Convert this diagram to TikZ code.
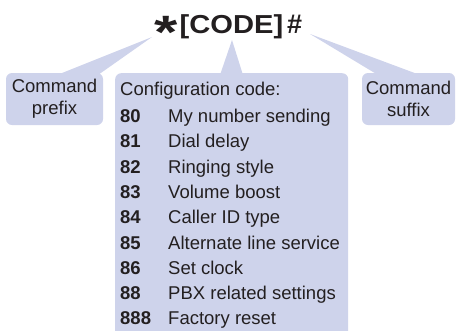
\documentclass[tikz,border=0pt]{standalone}
\usepackage{fontspec}
\setmainfont{Liberation Sans}
\usetikzlibrary{positioning}
\definecolor{callout}{RGB}{206,211,235}
\definecolor{ink}{RGB}{35,31,32}
\tikzset{
  bubble/.style={fill=callout, rounded corners=6pt, inner sep=0pt},
  txt/.style={text=ink, inner sep=0pt, font=\fontsize{18.5}{22}\selectfont},
  big/.style={text=ink, inner sep=0pt, font=\bfseries\fontsize{26}{26}\selectfont},
}
\begin{document}
\begin{tikzpicture}[x=1pt,y=-1pt]
\useasboundingbox (0,0) rectangle (457,330);

\coordinate (tipP) at (152,37);
\coordinate (tipC) at (232,40);
\coordinate (tipS) at (310,34);

% callout pointers
\fill[callout] (57,75) -- (tipP) -- (98,75) -- cycle;
\fill[callout] (220,75) -- (tipC) -- (243,75) -- cycle;
\fill[callout] (378,75) -- (tipS) -- (420,75) -- cycle;

% boxes
\node[bubble, txt, minimum width=97pt, minimum height=52pt, align=center] (prefix) at (54.5,99) {Command\\prefix};
\node[bubble, txt, minimum width=93pt, minimum height=52pt, align=center] (suffix) at (408.5,99) {Command\\suffix};
\node[bubble, minimum width=233pt, minimum height=264pt, anchor=north west] (codebox) at (115,73) {};

% title
\node[big, anchor=base] (code) at (231.5,33) {\scalebox{1.12}[1]{[CODE]}};
\node[big, anchor=base] (star) at (166,48) {\scalebox{2.3}[1.8]{*}};
\node[big, anchor=base west, font=\bfseries\fontsize{27}{27}\selectfont] (hash) at (287,33.5) {\#};

% list
\node[txt, anchor=base west] (head) at (120,95) {Configuration code:};
\foreach \num/\what [count=\i from 0] in {80/My number sending, 81/Dial delay,
  82/Ringing style, 83/Volume boost, 84/Caller ID type,
  85/Alternate line service, 86/Set clock, 88/PBX related settings,
  888/Factory reset}
{
  \node[txt, anchor=base west, font=\bfseries\fontsize{18.5}{22}\selectfont] (n\i) at (120,{122.5+25.3*\i}) {\num};
  \node[txt, anchor=base west] (d\i) at (168,{122.5+25.3*\i}) {\what};
}

\end{tikzpicture}
\end{document}
